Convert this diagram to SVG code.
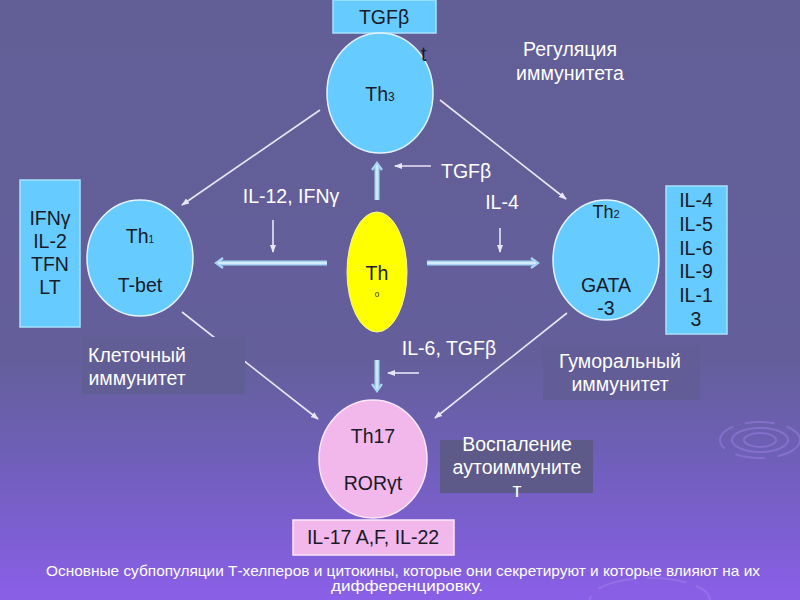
<svg xmlns="http://www.w3.org/2000/svg" width="800" height="600" viewBox="0 0 800 600">
<defs>
<linearGradient id="bg" x1="0" y1="0" x2="0" y2="1">
<stop offset="0" stop-color="#625e96"/>
<stop offset="0.6" stop-color="#645f9b"/>
<stop offset="0.75" stop-color="#6e5fb6"/>
<stop offset="0.88" stop-color="#7c5fd0"/>
<stop offset="1" stop-color="#8a5fe8"/>
</linearGradient>
<marker id="thin" markerWidth="8" markerHeight="8" refX="7" refY="4" orient="auto" markerUnits="userSpaceOnUse">
<path d="M0,1 L8,4 L0,7 Z" fill="#e8e6f6"/>
</marker>
<marker id="big" markerWidth="10" markerHeight="12" refX="6" refY="6" orient="auto" markerUnits="userSpaceOnUse">
<path d="M1,1 L8,6 L1,11" fill="none" stroke="#a9d6f5" stroke-width="2.2"/>
</marker>
</defs>
<style>
.t{font-family:"Liberation Sans",Arial,sans-serif;text-anchor:middle}
.dk{fill:#1a1a2a;font-size:19.5px}
.wh{fill:#ffffff;font-size:19.5px}
.blue{fill:#66ccff;stroke:#e4f4ff;stroke-width:1.5}
.bbox{fill:#66ccff;stroke:#a8e2ff;stroke-width:1.5}
.pink{fill:#f2b8ec;stroke:#fbe6f8;stroke-width:1.5}
.thin{stroke:#e8e6f6;stroke-width:1.6;fill:none}
.bigo{stroke:#a9d6f5;stroke-width:5;fill:none}
.bigi{stroke:#e2f2fd;stroke-width:1.3;fill:none}
.ripple{fill:none;stroke:#a88af0;stroke-opacity:0.4;stroke-width:2}
</style>
<rect width="800" height="600" fill="url(#bg)"/>
<g id="ripples">
<ellipse class="ripple" cx="760" cy="440" rx="28" ry="12"/>
<ellipse class="ripple" cx="760" cy="440" rx="16" ry="7"/>
<ellipse class="ripple" cx="760" cy="440" rx="40" ry="18" stroke-dasharray="30 12"/>
<ellipse class="ripple" cx="650" cy="600" rx="60" ry="22" stroke-dasharray="40 10"/>
</g>
<g id="connectors">
<line class="thin" x1="320" y1="110" x2="182" y2="205" marker-end="url(#thin)"/>
<line class="thin" x1="440" y1="100" x2="566" y2="199" marker-end="url(#thin)"/>
<line class="thin" x1="182" y1="312" x2="318" y2="419" marker-end="url(#thin)"/>
<line class="thin" x1="567" y1="313" x2="435" y2="418" marker-end="url(#thin)"/>
<line class="thin" x1="431" y1="166" x2="395" y2="166" marker-end="url(#thin)"/>
<line class="thin" x1="273" y1="220" x2="273" y2="252" marker-end="url(#thin)"/>
<line class="thin" x1="500" y1="228" x2="500" y2="252" marker-end="url(#thin)"/>
<line class="thin" x1="419" y1="373" x2="388" y2="373" marker-end="url(#thin)"/>
<line class="bigo" x1="377" y1="200" x2="377" y2="165" marker-end="url(#big)"/>
<line class="bigi" x1="377" y1="200" x2="377" y2="165"/>
<line class="bigo" x1="327" y1="263" x2="218" y2="263" marker-end="url(#big)"/>
<line class="bigi" x1="327" y1="263" x2="218" y2="263"/>
<line class="bigo" x1="427" y1="263" x2="536" y2="263" marker-end="url(#big)"/>
<line class="bigi" x1="427" y1="263" x2="536" y2="263"/>
<line class="bigo" x1="377" y1="360" x2="377" y2="389" marker-end="url(#big)"/>
<line class="bigi" x1="377" y1="360" x2="377" y2="389"/>
</g>
<g id="tgfb-top">
<rect class="bbox" x="333" y="0" width="103" height="33"/>
<text class="t dk" x="384" y="24">TGFβ</text>
</g>
<g id="th3">
<ellipse class="blue" cx="380" cy="93" rx="53" ry="60"/>
<text class="t dk" x="380" y="101">Th<tspan font-size="12">3</tspan></text>
</g>
<text class="t dk" x="421" y="61" style="text-anchor:start">t</text>
<g id="reg">
<text class="t wh" x="570" y="56">Регуляция</text>
<text class="t wh" x="570" y="80">иммунитета</text>
</g>
<g id="th1-cyt">
<rect class="bbox" x="20" y="180" width="60" height="147"/>
<text class="t dk" x="50" y="225">IFNγ</text>
<text class="t dk" x="50" y="248">IL-2</text>
<text class="t dk" x="50" y="271">TFN</text>
<text class="t dk" x="50" y="294">LT</text>
</g>
<g id="th1">
<ellipse class="blue" cx="140" cy="258" rx="53" ry="58"/>
<text class="t dk" x="140" y="243">Th<tspan font-size="10">1</tspan></text>
<text class="t dk" x="140" y="292">T-bet</text>
</g>
<g id="th2">
<ellipse class="blue" cx="606" cy="260" rx="53" ry="60"/>
<text class="t dk" x="606" y="218" style="font-size:18px">Th<tspan font-size="11">2</tspan></text>
<text class="t dk" x="606" y="292">GATA</text>
<text class="t dk" x="606" y="315">-3</text>
</g>
<g id="th2-cyt">
<rect class="bbox" x="666" y="186" width="61" height="148"/>
<text class="t dk" x="696" y="207">IL-4</text>
<text class="t dk" x="696" y="231">IL-5</text>
<text class="t dk" x="696" y="255">IL-6</text>
<text class="t dk" x="696" y="278">IL-9</text>
<text class="t dk" x="696" y="302">IL-1</text>
<text class="t dk" x="696" y="326">3</text>
</g>
<g id="th0">
<ellipse cx="377" cy="272" rx="30" ry="60" fill="#ffff00" stroke="#f4f4a0" stroke-width="1"/>
<text class="t dk" x="377" y="280">Th</text>
<text class="t dk" x="377" y="297" style="font-size:8px">0</text>
</g>
<g id="labels">
<text class="t wh" x="441" y="178" style="text-anchor:start">TGFβ</text>
<text class="t wh" x="291" y="203">IL-12, IFNγ</text>
<text class="t wh" x="502" y="209">IL-4</text>
<text class="t wh" x="449" y="355">IL-6, TGFβ</text>
</g>
<g id="cell-imm">
<rect x="82" y="337" width="163" height="57" fill="#615d95"/>
<text class="t wh" x="137" y="362">Клеточный</text>
<text class="t wh" x="137" y="385">иммунитет</text>
</g>
<g id="hum-imm">
<rect x="543" y="345" width="157" height="55" fill="#625d97"/>
<text class="t wh" x="620" y="368">Гуморальный</text>
<text class="t wh" x="620" y="391">иммунитет</text>
</g>
<g id="th17">
<ellipse class="pink" cx="373" cy="459" rx="54" ry="59"/>
<text class="t dk" x="373" y="443">Th17</text>
<text class="t dk" x="373" y="490">RORγt</text>
</g>
<g id="inflam">
<rect x="440" y="440" width="153" height="53" fill="#5d5a8a"/>
<text class="t wh" x="517" y="451">Воспаление</text>
<text class="t wh" x="517" y="474">аутоиммуните</text>
<text class="t wh" x="517" y="497">т</text>
</g>
<g id="th17-cyt">
<rect class="pink" x="293" y="520" width="161" height="35"/>
<text class="t dk" x="373" y="544">IL-17 A,F, IL-22</text>
</g>
<g id="caption">
<text class="t" x="403" y="576" fill="#ffffff" font-size="14.5" textLength="714" lengthAdjust="spacingAndGlyphs">Основные субпопуляции Т-хелперов и цитокины, которые они секретируют и которые влияют на их</text>
<text class="t" x="407" y="591" fill="#ffffff" font-size="14.5" textLength="152" lengthAdjust="spacingAndGlyphs">дифференцировку.</text>
</g>
</svg>
